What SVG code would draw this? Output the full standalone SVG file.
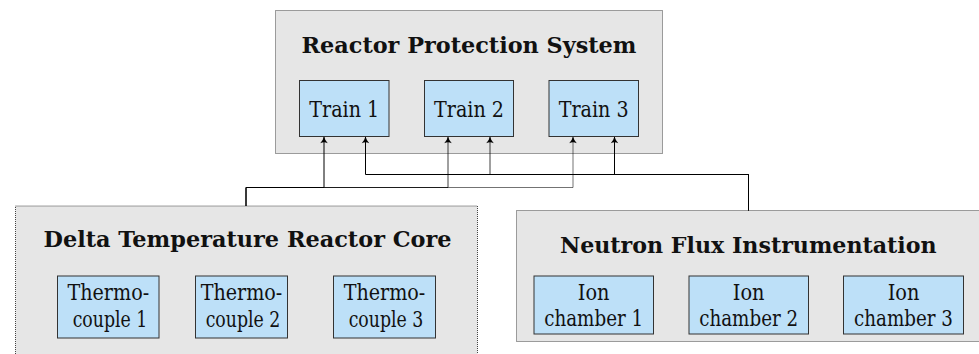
<svg xmlns="http://www.w3.org/2000/svg" width="979" height="354" viewBox="0 0 979 354">
<defs>
<style>
.grp{fill:#e6e6e6;stroke:#444;stroke-width:1;stroke-dasharray:1 1}
.node{fill:#bde0f8;stroke:#333;stroke-width:1}
.title{font-family:"DejaVu Serif","Liberation Serif",serif;font-weight:bold;font-size:22px;fill:#111;text-anchor:middle}
.lbl{font-family:"DejaVu Serif","Liberation Serif",serif;font-size:22px;fill:#111;text-anchor:middle}
.edge{fill:none;stroke:#000;stroke-width:1;marker-end:url(#arr)}
</style>
<marker id="arr" markerUnits="userSpaceOnUse" markerWidth="10" markerHeight="10" refX="0" refY="0" viewBox="-6 -4 8 8" orient="auto">
<path d="M-5,-3 Q-2,-0.6 0.5,0 Q-2,0.6 -5,3 Q-3.2,0 -5,-3 z" fill="#000"/>
</marker>
</defs>
<g id="rps">
<rect class="grp" x="275.5" y="10.5" width="387" height="143"/>
<text class="title" x="469" y="53.3" textLength="335" lengthAdjust="spacingAndGlyphs">Reactor Protection System</text>
</g>
<g id="train1">
<rect class="node" x="299.5" y="80.5" width="89.5" height="56"/>
<text class="lbl" x="344.3" y="116.7" textLength="70" lengthAdjust="spacingAndGlyphs">Train 1</text>
</g>
<g id="train2">
<rect class="node" x="424.5" y="80.5" width="89" height="56"/>
<text class="lbl" x="469" y="116.7" textLength="70" lengthAdjust="spacingAndGlyphs">Train 2</text>
</g>
<g id="train3">
<rect class="node" x="549" y="80.5" width="89.5" height="56"/>
<text class="lbl" x="593.7" y="116.7" textLength="70" lengthAdjust="spacingAndGlyphs">Train 3</text>
</g>
<g id="dtrc">
<rect class="grp" x="15.5" y="206" width="462" height="160"/>
<text class="title" x="247.5" y="247.3" textLength="408" lengthAdjust="spacingAndGlyphs">Delta Temperature Reactor Core</text>
</g>
<g id="tc1">
<rect class="node" x="57.5" y="276" width="101.5" height="62"/>
<text class="lbl" x="108.3" y="300" textLength="81.7" lengthAdjust="spacingAndGlyphs">Thermo-</text>
<text class="lbl" x="110" y="326.7" textLength="74.7" lengthAdjust="spacingAndGlyphs">couple 1</text>
</g>
<g id="tc2">
<rect class="node" x="195.5" y="276" width="92" height="62"/>
<text class="lbl" x="241.5" y="300" textLength="81.7" lengthAdjust="spacingAndGlyphs">Thermo-</text>
<text class="lbl" x="243" y="326.7" textLength="74.7" lengthAdjust="spacingAndGlyphs">couple 2</text>
</g>
<g id="tc3">
<rect class="node" x="333.5" y="276" width="102" height="62"/>
<text class="lbl" x="384.5" y="300" textLength="81.7" lengthAdjust="spacingAndGlyphs">Thermo-</text>
<text class="lbl" x="386" y="326.7" textLength="74.7" lengthAdjust="spacingAndGlyphs">couple 3</text>
</g>
<g id="nfi">
<rect class="grp" x="516.5" y="210.5" width="470" height="131"/>
<text class="title" x="748.3" y="253.3" textLength="376.7" lengthAdjust="spacingAndGlyphs">Neutron Flux Instrumentation</text>
</g>
<g id="ion1">
<rect class="node" x="534" y="276" width="119.5" height="58"/>
<text class="lbl" x="593.7" y="299.5" textLength="31.7" lengthAdjust="spacingAndGlyphs">Ion</text>
<text class="lbl" x="593.7" y="326" textLength="99" lengthAdjust="spacingAndGlyphs">chamber 1</text>
</g>
<g id="ion2">
<rect class="node" x="689" y="276" width="119.5" height="58"/>
<text class="lbl" x="748.7" y="299.5" textLength="31.7" lengthAdjust="spacingAndGlyphs">Ion</text>
<text class="lbl" x="748.7" y="326" textLength="99" lengthAdjust="spacingAndGlyphs">chamber 2</text>
</g>
<g id="ion3">
<rect class="node" x="843.5" y="276" width="120" height="58"/>
<text class="lbl" x="903.5" y="299.5" textLength="31.7" lengthAdjust="spacingAndGlyphs">Ion</text>
<text class="lbl" x="903.5" y="326" textLength="99" lengthAdjust="spacingAndGlyphs">chamber 3</text>
</g>
<g id="connectors">
<path class="edge" d="M246,206 V187.5 H324 V137"/>
<path class="edge" d="M246,206 V187.5 H448 V137" stroke-opacity="0.75"/>
<path class="edge" d="M246,206 V187.5 H573 V137" stroke-opacity="0.55"/>
<path class="edge" d="M748.5,210.5 V174.5 H365.5 V137"/>
<path class="edge" d="M748.5,210.5 V174.5 H490 V137" stroke-opacity="0.75"/>
<path class="edge" d="M748.5,210.5 V174.5 H614.5 V137"/>
</g>
</svg>
